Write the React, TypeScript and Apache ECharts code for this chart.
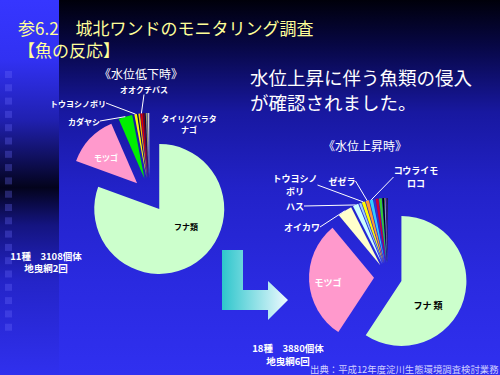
import React, { useEffect, useRef } from 'react';
import * as echarts from 'echarts';

// 水位低下時 (11種 3108個体)
const lowNames = ['フナ類', 'モツゴ', 'カダヤシ', 'トウヨシノボリ', '', '', 'オオクチバス', '', '', '', 'タイリクバラタナゴ'];
const lowValues = [2504, 402, 108, 20, 5, 12, 16, 12, 5, 12, 12];
const lowColors = ['#ccffcc', '#ff99cc', '#00ee00', '#ffff00', '#000000', '#ffcc00', '#dd0000', '#800000', '#000000', '#999966', '#cccccc'];

// 水位上昇時 (18種 3880個体)
const highNames = ['フナ類', 'モツゴ', 'オイカワ', 'ハス', '', 'トウヨシノボリ', 'ゼゼラ', 'コウライモロコ', '', '', '', '', '', '', '', '', '', ''];
const highValues = [2299, 1153, 140, 54, 22, 32, 32, 32, 16, 27, 27, 16, 5, 5, 5, 5, 5, 5];
const highColors = ['#ccffcc', '#ff99cc', '#ffffcc', '#ccffff', '#99ccff', '#ffff00', '#ff9933', '#33ccff', '#3333cc', '#cc0033', '#33cc33', '#000000', '#339933', '#ffffff', '#990000', '#000066', '#666666', '#000000'];

const lowLabelText: Record<string, string> = { 'タイリクバラタナゴ': 'タイリクバラタ\nナゴ' };
const highLabelText: Record<string, string> = { 'トウヨシノボリ': 'トウヨシノ\nボリ', 'コウライモロコ': 'コウライモ\nロコ', 'フナ類': 'フナ 類' };

const titleText = '参6.2　城北ワンドのモニタリング調査\n【魚の反応】';
const lowCaption = '11種　3108個体\n地曳網2回';
const highCaption = '18種　3880個体\n地曳網6回';

// label anchor positions (annotation layout)
const lowLabelPos: Record<string, [number, number]> = {
  'フナ類': [186, 226], 'モツゴ': [106, 157], 'カダヤシ': [84, 121], 'トウヨシノボリ': [78, 103],
  'オオクチバス': [144, 89], 'タイリクバラタナゴ': [189, 124],
};
const highLabelPos: Record<string, [number, number]> = {
  'フナ類': [428, 305], 'モツゴ': [328, 282], 'オイカワ': [302, 227], 'ハス': [295, 206],
  'トウヨシノボリ': [295, 185], 'ゼゼラ': [342, 181], 'コウライモロコ': [416, 177],
};
const insideNames = ['フナ類', 'モツゴ'];
const noLineNames = ['タイリクバラタナゴ'];

const FONT = '"Noto Sans CJK JP", "Noto Sans", sans-serif';

function sliceData(names: string[], values: number[], colors: string[]) {
  return names.map((n, i) => ({ name: n, value: values[i], selected: true, itemStyle: { color: colors[i] } }));
}

function labelData(names: string[], values: number[], pos: Record<string, [number, number]>, texts: Record<string, string>) {
  return names.map((n, i) => {
    const p = n ? pos[n] : undefined;
    const inside = insideNames.includes(n);
    return {
      name: n,
      value: values[i],
      itemStyle: { color: 'rgba(0,0,0,0)' },
      label: p
        ? { show: true, formatter: texts[n] || n, color: n === 'フナ類' ? '#000000' : '#ffffff', position: inside ? 'inside' : 'outside' }
        : { show: false },
      labelLine: { show: !!p && !inside && !noLineNames.includes(n) },
    };
  });
}

function makeLayout(names: string[], pos: Record<string, [number, number]>) {
  return (params: any) => {
    const n = names[params.dataIndex];
    const p = n ? pos[n] : undefined;
    if (!p) return {};
    return { x: p[0], y: p[1], align: 'center', verticalAlign: 'middle' };
  };
}

export default function App() {
  const ref = useRef<HTMLDivElement>(null);
  useEffect(() => {
    document.body.style.margin = '0';
    const chart = echarts.init(ref.current!, undefined, { renderer: 'svg' });
    const squares: any[] = [];
    for (let i = 0; i < 20; i++) {
      squares.push({ type: 'rect', z: -90, shape: { x: 5, y: 71 + i * 13.3, width: 7, height: 7 }, style: { fill: 'rgba(110,110,255,0.3)' } });
    }
    const txt = (text: string, x: number, y: number, font: string, fill: string, align = 'left', lineHeight?: number) => ({
      type: 'text', z: 50, style: { text, x, y, font, fill, textAlign: align, textVerticalAlign: 'middle', ...(lineHeight ? { lineHeight } : {}) },
    });
    const common = {
      type: 'pie',
      startAngle: 90,
      clockwise: true,
      avoidLabelOverlap: false,
      emphasis: { disabled: true },
      itemStyle: { borderWidth: 0 },
    };
    const sliceSeries = (center: number[], offset: number, names: string[], values: number[], colors: string[]) => ({
      ...common,
      z: 2,
      radius: 65,
      center,
      selectedMode: 'multiple',
      selectedOffset: offset,
      label: { show: false },
      labelLine: { show: false },
      data: sliceData(names, values, colors),
    });
    const labelSeries = (center: number[], r: number, fontSize: number, lineHeight: number, names: string[], values: number[], pos: Record<string, [number, number]>, texts: Record<string, string>) => ({
      ...common,
      z: 3,
      silent: true,
      radius: r,
      center,
      label: { fontFamily: FONT, fontWeight: 'bold', fontSize, lineHeight, color: '#ffffff' },
      labelLine: { length: 6, length2: 0, lineStyle: { color: '#ffffff', width: 1 } },
      labelLayout: makeLayout(names, pos),
      data: labelData(names, values, pos, texts),
    });
    chart.setOption({
      animation: false,
      graphic: [
        {
          type: 'rect', z: -100, shape: { x: 0, y: 0, width: 500, height: 375 },
          style: {
            fill: new echarts.graphic.LinearGradient(0, 0, 0, 1, [
              { offset: 0, color: '#00000a' }, { offset: 0.12, color: '#070744' }, { offset: 0.3, color: '#1818a0' },
              { offset: 0.5, color: '#2222c8' }, { offset: 0.75, color: '#2a2ae0' }, { offset: 1, color: '#3030f0' },
            ]),
          },
        },
        {
          type: 'rect', z: -95, shape: { x: 0, y: 0, width: 59, height: 375 },
          style: {
            fill: new echarts.graphic.LinearGradient(0, 0, 0, 1, [
              { offset: 0, color: '#3636ff' }, { offset: 0.16, color: '#3131f2' }, { offset: 0.32, color: '#2020b0' },
              { offset: 0.5, color: '#03031c' }, { offset: 0.6, color: '#141480' }, { offset: 0.75, color: '#2424c8' },
              { offset: 1, color: '#3030ee' },
            ]),
          },
        },
        ...squares,
        {
          type: 'polygon', z: 40,
          shape: { points: [[222, 250], [243, 250], [243, 290], [268, 290], [268, 281], [288, 300], [268, 320], [268, 310], [222, 310]] },
          style: { fill: new echarts.graphic.LinearGradient(0, 0, 1, 0, [{ offset: 0, color: '#2ec6cc' }, { offset: 1, color: '#eefaff' }]) },
        },
        txt(titleText, 18, 38, `17px ${FONT}`, '#ffff99', 'left', 22),
        txt('水位上昇に伴う魚類の侵入', 250, 77, `18.5px ${FONT}`, '#ffffff'),
        txt('が確認されました。', 250, 102, `18.5px ${FONT}`, '#ffffff'),
        txt('《水位低下時》', 141, 73, `12px ${FONT}`, '#ffffff', 'center'),
        txt('《水位上昇時》', 365, 145, `12px ${FONT}`, '#ffffff', 'center'),
        txt(lowCaption, 46, 262, `bold 9.5px ${FONT}`, '#ffffff', 'center', 12.5),
        txt(highCaption, 288, 354.5, `bold 9.5px ${FONT}`, '#ffffff', 'center', 12.5),
        txt('出典：平成12年度淀川生態環境調査検討業務', 310, 369, `9.4px ${FONT}`, '#d0d0ff'),
      ],
      series: [
        sliceSeries([149.5, 195], 17, lowNames, lowValues, lowColors),
        sliceSeries([388, 277], 14, highNames, highValues, highColors),
        labelSeries([149.5, 195], 82, 8, 11, lowNames, lowValues, lowLabelPos, lowLabelText),
        labelSeries([388, 277], 79, 9, 13, highNames, highValues, highLabelPos, highLabelText),
      ],
    });
    return () => chart.dispose();
  }, []);
  return <div ref={ref} style={{ width: 500, height: 375 }} />;
}
